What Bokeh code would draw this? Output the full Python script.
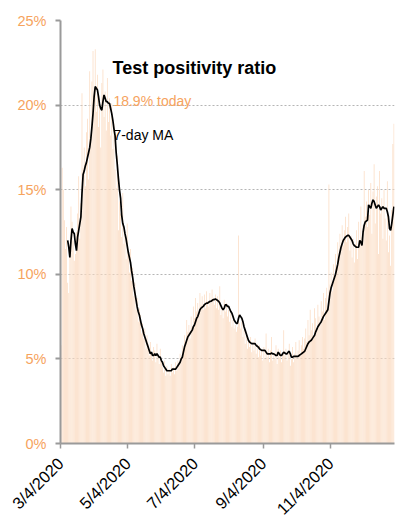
import math
import numpy as np
import pandas as pd
from bokeh.plotting import figure
from bokeh.models import Range1d, FixedTicker, Label
from bokeh.embed import file_html
from bokeh.resources import INLINE

# ---------------- data ----------------
start_date = "2020-03-04"

# daily test positivity ratio (%), 3/4/2020 .. 12/31/2020
positivity = [
    5.8, 16.3, 15.0, 13.2, 11.5, 12.8, 9.5, 8.9, 11.4, 14.0,
    13.1, 12.0, 10.8, 11.2, 12.5, 13.6, 15.8, 12.1, 14.2, 20.7,
    16.3, 17.5, 15.2, 18.4, 19.2, 15.6, 22.0, 17.8, 21.4, 23.2,
    20.5, 23.3, 19.6, 21.8, 18.7, 19.9, 17.5, 21.3, 22.1, 19.3,
    20.8, 18.5, 21.6, 19.0, 20.4, 18.2, 20.1, 17.4, 18.9, 16.2,
    15.1, 17.0, 12.6, 14.3, 13.6, 12.2, 14.8, 11.8, 12.5, 10.9,
    13.0, 11.2, 10.1, 11.5, 9.6, 10.4, 8.7, 9.5, 7.9, 8.6,
    7.2, 8.0, 7.6, 6.5, 7.1, 6.2, 6.8, 5.6, 6.4, 5.9,
    5.2, 6.0, 5.4, 4.9, 5.7, 5.5, 4.8, 5.9, 5.1, 4.7,
    5.6, 4.9, 4.5, 4.2, 4.9, 4.0, 4.6, 4.1, 4.4, 4.0,
    4.7, 4.2, 4.5, 4.1, 4.8, 4.3, 4.9, 4.6, 5.3, 5.0,
    5.8, 5.5, 6.4, 6.0, 7.3, 6.6, 7.0, 6.2, 7.5, 6.9,
    8.1, 7.4, 8.6, 7.8, 8.3, 7.6, 8.9, 8.2, 8.7, 7.9,
    8.8, 8.0, 9.0, 8.4, 8.1, 8.9, 8.3, 9.1, 8.6, 8.2,
    8.8, 8.0, 8.7, 7.9, 9.3, 7.6, 8.1, 7.4, 8.5, 7.8,
    8.3, 7.5, 7.9, 7.2, 7.7, 6.9, 7.3, 6.8, 7.0, 6.6,
    6.9, 12.3, 7.1, 6.8, 7.2, 6.3, 6.7, 5.9, 6.4, 5.6,
    6.1, 5.7, 6.3, 5.4, 6.0, 5.5, 6.2, 5.3, 5.9, 5.1,
    5.8, 5.2, 5.6, 4.9, 5.7, 5.0, 6.5, 5.1, 5.6, 4.8,
    5.5, 6.3, 4.9, 5.4, 5.0, 5.8, 4.7, 5.6, 5.1, 5.5,
    4.8, 5.3, 6.7, 5.2, 5.6, 4.9, 5.4, 5.9, 4.6, 5.0,
    5.7, 4.8, 5.3, 6.0, 5.1, 5.5, 6.1, 5.2, 5.8, 6.3,
    5.6, 6.2, 6.8, 6.0, 7.3, 6.4, 7.9, 6.7, 7.1, 6.2,
    8.0, 7.4, 6.8, 8.2, 7.5, 7.0, 8.4, 7.8, 8.9, 7.3,
    8.6, 9.2, 8.0, 15.3, 9.4, 10.1, 9.0, 10.6, 9.7, 11.2,
    10.2, 11.9, 10.8, 12.4, 11.5, 12.9, 11.7, 12.6, 13.4, 11.9,
    12.8, 13.6, 11.4, 12.3, 11.0, 12.1, 10.7, 11.8, 12.6, 10.9,
    13.1, 11.6, 14.0, 12.2, 12.9, 16.1, 13.4, 14.3, 12.8, 15.0,
    13.5, 15.4, 12.4, 14.9, 16.5, 13.0, 14.6, 15.2, 11.2, 16.1,
    13.6, 14.5, 12.1, 15.0, 13.3, 12.0, 15.5, 11.3, 12.3, 10.5,
    13.8, 17.7, 18.9,
]

# 7-day moving average (%), 3/10/2020 .. 12/31/2020
ma_start_date = "2020-03-10"
moving_avg = [
    12.0, 11.6, 11.0, 12.0, 12.7, 12.5, 12.4, 11.8, 11.4, 12.2,
    12.6, 13.0, 13.4, 14.8, 15.9, 16.1, 16.4, 16.6, 16.9, 17.2,
    17.5, 18.0, 18.7, 19.5, 20.5, 21.1, 21.0, 20.9, 20.5, 20.0,
    19.8, 19.7, 20.2, 20.6, 20.4, 20.2, 20.2, 20.1, 20.1, 19.8,
    19.5, 19.1, 18.6, 18.2, 17.2, 16.5, 15.7, 15.0, 14.5, 13.5,
    13.0, 12.8, 12.4, 12.1, 11.7, 11.3, 11.0, 10.7, 10.2, 9.8,
    9.3, 8.9, 8.5, 8.1, 7.8, 7.6, 7.3, 7.0, 6.8, 6.5,
    6.3, 6.1, 5.9, 5.7, 5.5, 5.3, 5.4, 5.2, 5.2, 5.3,
    5.2, 5.3, 5.2, 5.1, 5.1, 4.9, 4.8, 4.6, 4.5, 4.4,
    4.3, 4.3, 4.3, 4.3, 4.3, 4.4, 4.4, 4.4, 4.4, 4.5,
    4.6, 4.7, 4.8, 5.0, 5.1, 5.4, 5.7, 5.9, 6.1, 6.3,
    6.4, 6.5, 6.6, 6.7, 6.9, 7.0, 7.2, 7.4, 7.5, 7.7,
    7.9, 8.0, 8.05, 8.1, 8.2, 8.25, 8.3, 8.3, 8.35, 8.4,
    8.4, 8.45, 8.5, 8.5, 8.55, 8.5, 8.45, 8.4, 8.3, 8.15,
    8.0, 7.9, 8.0, 8.2, 8.2, 8.1, 8.1, 7.95, 7.8, 7.7,
    7.5, 7.3, 7.2, 7.1, 7.1, 7.4, 7.6, 7.5, 7.4, 7.2,
    6.9, 6.7, 6.5, 6.3, 6.1, 6.0, 5.95, 5.9, 5.9, 5.9,
    5.9, 5.8, 5.75, 5.7, 5.6, 5.55, 5.5, 5.5, 5.5, 5.5,
    5.4, 5.3, 5.3, 5.3, 5.3, 5.35, 5.3, 5.3, 5.25, 5.2,
    5.2, 5.4, 5.3, 5.2, 5.2, 5.3, 5.4, 5.35, 5.3, 5.3,
    5.4, 5.45, 5.3, 5.1, 5.1, 5.15, 5.15, 5.15, 5.15, 5.15,
    5.2, 5.25, 5.3, 5.35, 5.4, 5.45, 5.6, 5.75, 5.9, 6.0,
    6.05, 6.1, 6.2, 6.3, 6.4, 6.6, 6.75, 6.9, 7.0, 7.1,
    7.2, 7.35, 7.5, 7.6, 7.7, 7.8, 7.9, 8.4, 8.9, 9.2,
    9.4, 9.6, 9.8, 10.0, 10.3, 10.6, 11.0, 11.3, 11.6, 11.8,
    12.0, 12.1, 12.2, 12.25, 12.3, 12.3, 12.2, 12.1, 12.0, 11.8,
    11.7, 11.65, 11.6, 11.6, 11.6, 12.0, 11.9, 11.7, 12.5, 12.9,
    13.1, 13.15, 13.2, 14.1, 14.0, 13.9, 14.2, 14.4, 14.3, 14.1,
    13.9, 14.0, 14.1, 14.0, 13.8, 13.9, 14.0, 13.9, 13.9, 13.9,
    13.7, 13.4, 12.7, 12.6, 13.0, 13.5, 14.0,
]

y_ticks = [0, 5, 10, 15, 20, 25]
y_tick_labels = ["0%", "5%", "10%", "15%", "20%", "25%"]
x_tick_dates = ["2020-03-04", "2020-05-04", "2020-07-04", "2020-09-04", "2020-11-04"]
x_tick_labels = ["3/4/2020", "5/4/2020", "7/4/2020", "9/4/2020", "11/4/2020"]

title_text = "Test positivity ratio"
today_text = "18.9% today"
ma_text = "7-day MA"

# ---------------- derived positions ----------------
t0 = pd.Timestamp(start_date)
bar_dates = pd.date_range(start_date, periods=len(positivity), freq="D")
ma_dates = pd.date_range(ma_start_date, periods=len(moving_avg), freq="D")
bar_x = np.array([(d - t0).days for d in bar_dates]) + 0.5
ma_x = np.array([(d - t0).days for d in ma_dates]) + 0.5
tick_x = [(pd.Timestamp(d) - t0).days for d in x_tick_dates]
x_end = len(positivity)

ORANGE = "#f6a35e"
BAR = "#fbdcc3"
FONT = "'Liberation Sans', sans-serif"

p = figure(
    frame_width=334, frame_height=423,
    min_border_left=60, min_border_right=14, min_border_top=20, min_border_bottom=84,
    x_range=Range1d(0, x_end), y_range=Range1d(0, 25),
    output_backend="svg", toolbar_location=None,
)
p.outline_line_color = None
p.background_fill_color = "white"
p.border_fill_color = "white"

p.vbar(x=bar_x, top=positivity, width=0.7, bottom=0, fill_color=BAR, line_color=None)
p.line(ma_x, moving_avg, line_color="black", line_width=1.7)

p.xgrid.visible = False
p.ygrid.ticker = FixedTicker(ticks=y_ticks)
p.ygrid.grid_line_color = "#b5b5b5"
p.ygrid.grid_line_dash = "2 2"
p.ygrid.grid_line_width = 1

ya = p.yaxis[0]
ya.ticker = FixedTicker(ticks=y_ticks)
ya.major_label_overrides = {t: l for t, l in zip(y_ticks, y_tick_labels)}
ya.axis_line_color = "#9a9a9a"
ya.axis_line_width = 2
ya.major_tick_line_color = "#9a9a9a"
ya.major_tick_line_width = 2
ya.major_tick_out = 5
ya.major_tick_in = 0
ya.minor_tick_line_color = None
ya.major_label_standoff = 9
ya.major_label_text_color = ORANGE
ya.major_label_text_font = FONT
ya.major_label_text_font_size = "14.5px"

xa = p.xaxis[0]
xa.ticker = FixedTicker(ticks=tick_x)
xa.major_label_overrides = {t: l for t, l in zip(tick_x, x_tick_labels)}
xa.major_label_orientation = math.pi / 4
xa.axis_line_color = "#9a9a9a"
xa.axis_line_width = 2
xa.major_tick_line_color = "#9a9a9a"
xa.major_tick_line_width = 1.5
xa.major_tick_out = 5
xa.major_tick_in = 0
xa.minor_tick_line_color = None
xa.major_label_standoff = 12
xa.major_label_text_color = "black"
xa.major_label_text_font = FONT
xa.major_label_text_font_size = "16.5px"

p.add_layout(Label(x=47.2, y=22.2, text=title_text, text_font=FONT, text_font_style="bold",
                   text_font_size="18px", text_color="black", text_baseline="alphabetic"))
p.add_layout(Label(x=48.0, y=20.25, text=today_text, text_font=FONT,
                   text_font_size="14px", text_color=ORANGE, text_baseline="alphabetic"))
p.add_layout(Label(x=48.0, y=18.25, text=ma_text, text_font=FONT,
                   text_font_size="14px", text_color="black", text_baseline="alphabetic"))

open("out.html", "w").write(file_html(p, INLINE))
